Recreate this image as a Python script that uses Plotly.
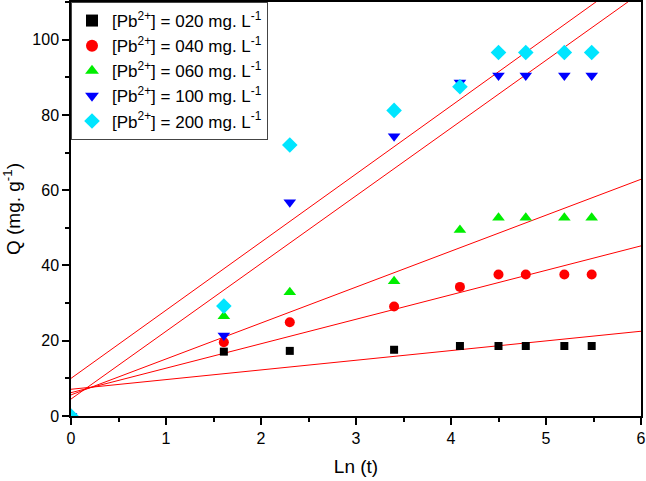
import plotly.graph_objects as go

ln_t = [0, 1.609, 2.303, 3.401, 4.094, 4.500, 4.787, 5.193, 5.481]

labels = ["020", "040", "060", "100", "200"]
q_020 = [0, 17.1, 17.3, 17.6, 18.6, 18.6, 18.6, 18.6, 18.6]
q_040 = [0, 19.6, 24.9, 29.1, 34.3, 37.6, 37.6, 37.6, 37.6]
q_060 = [0, 26.5, 32.9, 35.8, 49.4, 52.7, 52.7, 52.7, 52.7]
q_100 = [0, 21.4, 56.8, 74.3, 88.6, 90.5, 90.5, 90.5, 90.5]
q_200 = [0, 29.2, 72.0, 81.2, 87.5, 96.6, 96.6, 96.6, 96.6]

fit_intercept = [7.1, 6.2, 5.6, 4.5, 10.0]
fit_slope = [2.57, 6.5, 9.55, 18.0, 18.1]
fit_x = [0, 6]

series = [q_020, q_040, q_060, q_100, q_200]
colors = ["#000000", "#ff0000", "#00ee00", "#0000ff", "#00e5ff"]
symbols = ["square", "circle", "triangle-up", "triangle-down", "diamond"]
sizes = [8, 10, 11, 11, 12]

FONT = "Liberation Sans, Arial"

fig = go.Figure()

for b, m in zip(fit_intercept, fit_slope):
    fig.add_trace(go.Scatter(
        x=fit_x, y=[b + m * x for x in fit_x], mode="lines",
        line=dict(color="#ff0000", width=1), showlegend=False, hoverinfo="skip"))

for lab, ys, c, s, sz in zip(labels, series, colors, symbols, sizes):
    fig.add_trace(go.Scatter(
        x=ln_t, y=ys, mode="markers",
        marker=dict(color=c, symbol=s, size=sz, line=dict(width=0)),
        name="[Pb<sup>2+</sup>] = " + lab + " mg. L<sup>-1</sup>"))

axis_common = dict(
    showline=True, linecolor="black", linewidth=1.5, mirror=True,
    ticks="outside", ticklen=7, tickwidth=1.5, tickcolor="black",
    showgrid=False, zeroline=False, automargin=False,
    tickfont=dict(family=FONT, size=16, color="black"),
)

fig.update_layout(
    width=646, height=481,
    margin=dict(l=71, r=5, t=2, b=65),
    paper_bgcolor="white", plot_bgcolor="white",
    font=dict(family=FONT, size=16, color="black"),
    xaxis=dict(range=[0, 6], dtick=1,
               minor=dict(ticks="outside", ticklen=4, dtick=0.5, tickcolor="black", tickwidth=1.5),
               title=dict(text="Ln (t)", font=dict(size=19), standoff=14),
               **axis_common),
    yaxis=dict(range=[0, 110], dtick=20,
               minor=dict(ticks="outside", ticklen=4, dtick=10, tickcolor="black", tickwidth=1.5),
               title=dict(text="Q (mg. g<sup>-1</sup>)", font=dict(size=19), standoff=10),
               **axis_common),
    legend=dict(x=0, y=1, xanchor="left", yanchor="top",
                bordercolor="#444444", borderwidth=1, bgcolor="white",
                font=dict(size=17), tracegroupgap=0, itemsizing="constant",
                entrywidth=172, entrywidthmode="pixels"),
    showlegend=True,
)

fig.write_html("out.html", config={"displayModeBar": False},
               post_script="document.body.style.margin='0';document.body.style.overflow='hidden';")
